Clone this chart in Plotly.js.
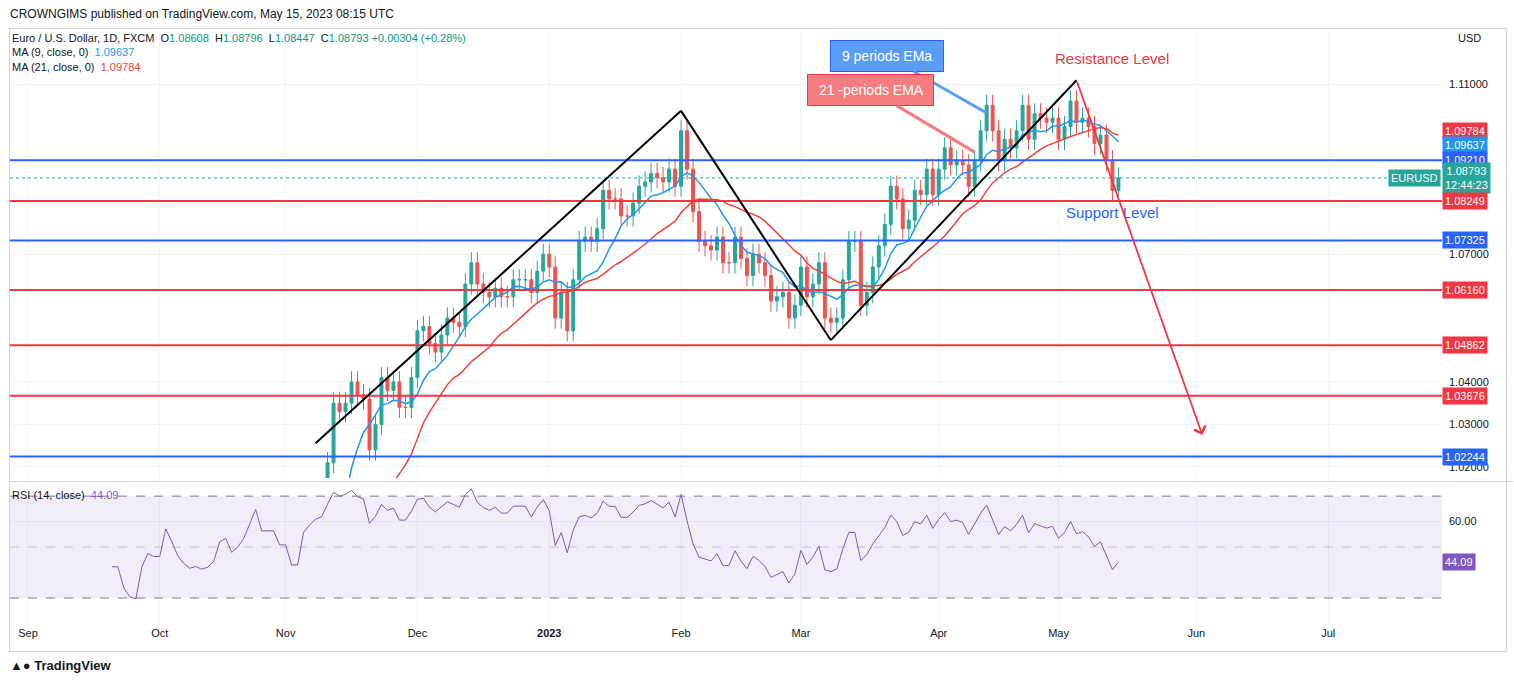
<!DOCTYPE html>
<html>
<head>
<meta charset="utf-8">
<script src="https://cdn.plot.ly/plotly-3.0.1.min.js"></script>
<style>
  html, body { margin: 0; padding: 0; background: #fff; font-family: 'Liberation Sans', Arial, sans-serif; }
  #graph { width: 1514px; height: 685px; }
  .hdr { position: absolute; left: 10px; top: 7px; font-size: 12px; color: #131722; }
  .foot { position: absolute; left: 10px; top: 658px; font-size: 13px; font-weight: bold; color: #131722; }
  .frame { position: absolute; left: 9px; top: 28px; width: 1496px; height: 622px; border: 1px solid #d1d4dc; pointer-events: none; }
</style>
</head>
<body>
<div class="hdr">CROWNGIMS published on TradingView.com, May 15, 2023 08:15 UTC</div>
<div id="graph"></div>
<div class="frame"></div>
<div class="foot">&#9650;&#9679; TradingView</div>
<script>
// --- Data: daily closes per month (EURUSD, Sep 2022 – May 15 2023) ---
const closeSep = [0.995,0.996,0.993,0.990,1.001,1.000,1.004,1.012,0.997,0.998,1.000,1.002,1.003,0.997,0.984,0.984,0.969,0.961,0.959,0.974,0.982,0.980];
const closeOct = [0.980,0.998,0.990,0.980,0.974,0.970,0.971,0.969,0.970,0.973,0.984,0.986,0.978,0.981,0.986,0.996,1.008,0.996,0.996,0.996,0.988];
const closeNov = [0.988,0.975,0.975,0.996,1.002,1.007,1.009,1.021,1.035,1.033,1.035,1.040,1.037,1.036,1.024,1.030,1.041,1.038,1.040,1.034,1.034,1.041];
const closeDec = [1.052,1.053,1.049,1.047,1.051,1.055,1.054,1.053,1.063,1.068,1.063,1.061,1.060,1.062,1.060,1.060,1.064,1.064,1.064,1.061,1.066,1.070];
const closeJan = [1.067,1.055,1.061,1.052,1.064,1.073,1.074,1.073,1.076,1.085,1.083,1.083,1.079,1.079,1.082,1.086,1.087,1.089,1.088,1.087,1.090,1.086];
const closeFeb = [1.099,1.090,1.080,1.073,1.072,1.071,1.074,1.068,1.068,1.074,1.069,1.065,1.070,1.068,1.065,1.059,1.060,1.061,1.055,1.058];
const closeMar = [1.067,1.060,1.063,1.068,1.055,1.054,1.055,1.064,1.073,1.073,1.058,1.061,1.067,1.072,1.077,1.086,1.083,1.076,1.078,1.085,1.084,1.090,1.084];
const closeApr = [1.090,1.095,1.091,1.092,1.091,1.086,1.092,1.099,1.105,1.099,1.092,1.097,1.095,1.099,1.105,1.097,1.103,1.102,1.101,1.102];
const closeMay = [1.097,1.100,1.106,1.101,1.102,1.100,1.096,1.098,1.092,1.085,1.08793];
const firstOpen = 1.005;

const levelsBlue = [1.09210, 1.07325, 1.02244];
const levelsRed = [1.08249, 1.06160, 1.04862, 1.03676];
const priceTicks = [1.02, 1.03, 1.04, 1.07, 1.11];
const monthTickDates = ['2022-09-01','2022-10-03','2022-11-01','2022-12-01','2023-01-02','2023-02-01','2023-03-01','2023-04-03','2023-05-01','2023-06-01','2023-07-03'];
const monthTickText = ['Sep','Oct','Nov','Dec','<b>2023</b>','Feb','Mar','Apr','May','Jun','Jul'];

const closes = [].concat(closeSep, closeOct, closeNov, closeDec, closeJan, closeFeb, closeMar, closeApr, closeMay);

// weekday dates from Sep 1 2022
const dates = [];
let d = new Date(Date.UTC(2022, 8, 1));
while (dates.length < closes.length) {
  const wd = d.getUTCDay();
  if (wd !== 0 && wd !== 6) dates.push(d.toISOString().slice(0, 10));
  d = new Date(d.getTime() + 86400000);
}

const opens = closes.map((c, i) => i === 0 ? firstOpen : closes[i - 1]);
const highs = closes.map((c, i) => Math.max(c, opens[i]) + 0.0025);
const lows = closes.map((c, i) => Math.min(c, opens[i]) - 0.0025);

function sma(n) {
  return closes.map((c, i) => {
    if (i < n - 1) return null;
    let s = 0;
    for (let k = i - n + 1; k <= i; k++) s += closes[k];
    return s / n;
  });
}

function rsi(n) {
  const out = closes.map(() => null);
  let g = 0, l = 0;
  for (let i = 1; i <= n; i++) {
    const ch = closes[i] - closes[i - 1];
    if (ch > 0) g += ch; else l -= ch;
  }
  g /= n; l /= n;
  out[n] = 100 - 100 / (1 + g / l);
  for (let i = n + 1; i < closes.length; i++) {
    const ch = closes[i] - closes[i - 1];
    g = (g * (n - 1) + Math.max(ch, 0)) / n;
    l = (l * (n - 1) + Math.max(-ch, 0)) / n;
    out[i] = 100 - 100 / (1 + g / l);
  }
  return out;
}

const BLUE = '#2962ff', RED = '#f23645', UP = '#26a69a', DOWN = '#ef5350';

const traces = [
  {
    type: 'candlestick', x: dates, open: opens, high: highs, low: lows, close: closes,
    increasing: { line: { color: UP, width: 1 }, fillcolor: UP },
    decreasing: { line: { color: DOWN, width: 1 }, fillcolor: DOWN },
    whiskerwidth: 0, hoverinfo: 'skip', xaxis: 'x', yaxis: 'y'
  },
  { type: 'scatter', mode: 'lines', x: dates, y: sma(9), line: { color: '#2196f3', width: 1.5 }, xaxis: 'x', yaxis: 'y' },
  { type: 'scatter', mode: 'lines', x: dates, y: sma(21), line: { color: '#f44336', width: 1.5 }, xaxis: 'x', yaxis: 'y' },
  { type: 'scatter', mode: 'lines', x: dates, y: rsi(14), line: { color: '#7e57c2', width: 1 }, xaxis: 'x', yaxis: 'y2' }
];

const shapes = [];
levelsBlue.forEach(v => shapes.push({ type: 'line', xref: 'paper', x0: 0, x1: 1, yref: 'y', y0: v, y1: v, line: { color: BLUE, width: 2 } }));
levelsRed.forEach(v => shapes.push({ type: 'line', xref: 'paper', x0: 0, x1: 1, yref: 'y', y0: v, y1: v, line: { color: RED, width: 2 } }));
shapes.push({ type: 'line', xref: 'paper', x0: 0, x1: 1, yref: 'y', y0: 1.08793, y1: 1.08793, line: { color: UP, width: 1, dash: 'dot' } });
// pattern lines
[['2022-11-08', 1.0256, '2023-02-01', 1.1037], ['2023-02-01', 1.1037, '2023-03-08', 1.0498], ['2023-03-08', 1.0498, '2023-05-04', 1.1109]]
  .forEach(s => shapes.push({ type: 'line', xref: 'x', yref: 'y', x0: s[0], y0: s[1], x1: s[2], y1: s[3], line: { color: '#000', width: 2 } }));
// RSI band
shapes.push({ type: 'rect', xref: 'paper', x0: 0, x1: 1, yref: 'y2', y0: 30, y1: 70, fillcolor: 'rgba(126,87,194,0.1)', line: { width: 0 } });
[30, 50, 70].forEach(v => shapes.push({ type: 'line', xref: 'paper', x0: 0, x1: 1, yref: 'y2', y0: v, y1: v, line: { color: v === 50 ? 'rgba(120,123,134,0.4)' : '#787b86', width: 1, dash: 'dash' } }));
// pane separator
shapes.push({ type: 'line', xref: 'paper', x0: 0, x1: 1.05, yref: 'paper', y0: 0.241, y1: 0.241, line: { color: '#d1d4dc', width: 1 } });

function priceBox(v, color, text, shift) {
  return { xref: 'paper', x: 1, xanchor: 'left', yref: 'y', y: v, text: text || v.toFixed(5), showarrow: false, yshift: shift || 0,
    bgcolor: color, font: { color: '#fff', size: 11, family: 'Liberation Sans' }, borderpad: 2 };
}

const annotations = [
  { xref: 'paper', yref: 'paper', x: 0, y: 1.0, xanchor: 'left', yanchor: 'top', showarrow: false, align: 'left',
    font: { size: 11, color: '#131722', family: 'Liberation Sans' },
    text: 'Euro / U.S. Dollar, 1D, FXCM  O<span style="color:#089981">1.08608</span>  H<span style="color:#089981">1.08796</span>  L<span style="color:#089981">1.08447</span>  C<span style="color:#089981">1.08793 +0.00304 (+0.28%)</span>' +
      '<br>MA (9, close, 0)  <span style="color:#2196f3">1.09637</span><br>MA (21, close, 0)  <span style="color:#f44336">1.09784</span>' },
  { xref: 'paper', yref: 'paper', x: 0, y: 0.232, xanchor: 'left', yanchor: 'top', showarrow: false,
    font: { size: 11, color: '#131722', family: 'Liberation Sans' }, text: 'RSI (14, close)  <span style="color:#7e57c2">44.09</span>' },
  { xref: 'paper', yref: 'paper', x: 1.01, y: 1.0, xanchor: 'left', yanchor: 'top', showarrow: false, font: { size: 11, color: '#131722' }, text: 'USD' },
  priceBox(1.09784, '#f23645', null, 5),
  priceBox(1.09637, '#2196f3', null, -3),
  priceBox(1.09210, BLUE),
  priceBox(1.08793, UP, '1.08793<br>12:44:23'),
  priceBox(1.08249, RED),
  priceBox(1.07325, BLUE),
  priceBox(1.06160, RED),
  priceBox(1.04862, RED),
  priceBox(1.03676, RED),
  priceBox(1.02244, BLUE),
  { xref: 'paper', x: 0.999, xanchor: 'right', yref: 'y', y: 1.08793, text: 'EURUSD', showarrow: false, bgcolor: UP, font: { color: '#fff', size: 11 }, borderpad: 2 },
  { xref: 'paper', x: 1, xanchor: 'left', yref: 'y2', y: 44.09, text: '44.09', showarrow: false, bgcolor: '#7e57c2', font: { color: '#fff', size: 11 }, borderpad: 2 },
  { xref: 'x', yref: 'y', x: '2023-05-12', y: 1.1159, text: 'Resistance Level', showarrow: false, font: { color: RED, size: 15, family: 'Liberation Sans' } },
  { xref: 'x', yref: 'y', x: '2023-05-12', y: 1.0797, text: 'Support Level', showarrow: false, font: { color: '#2962ff', size: 15, family: 'Liberation Sans' } },
  { xref: 'x', yref: 'y', x: '2023-04-13', y: 1.1032, ax: -100, ay: -57, text: ' 9 periods EMa ', showarrow: true, arrowhead: 0, arrowwidth: 3,
    arrowcolor: '#5b9cf6', bgcolor: '#5b9cf6', bordercolor: '#2962ff', borderpad: 7, font: { color: '#fff', size: 14 } },
  { xref: 'x', yref: 'y', x: '2023-04-11', y: 1.094, ax: -104, ay: -62, text: ' 21 -periods EMA ', showarrow: true, arrowhead: 0, arrowwidth: 3,
    arrowcolor: '#f77c80', bgcolor: '#f77c80', bordercolor: '#f23645', borderpad: 7, font: { color: '#fff', size: 14 } },
  { xref: 'x', yref: 'y', x: '2023-06-02', y: 1.0275, axref: 'x', ayref: 'y', ax: '2023-05-04', ay: 1.1109, text: '', showarrow: true,
    arrowhead: 4, arrowsize: 1.3, arrowwidth: 1.8, arrowcolor: '#f23645' }
];

const layout = {
  width: 1514, height: 685,
  margin: { l: 10, r: 72, t: 30, b: 60 },
  paper_bgcolor: 'rgba(0,0,0,0)', plot_bgcolor: '#fff',
  showlegend: false, dragmode: false,
  font: { family: 'Liberation Sans', size: 11, color: '#131722' },
  xaxis: {
    type: 'date', anchor: 'y2', range: ['2022-08-29', '2023-07-28'],
    rangebreaks: [{ bounds: ['sat', 'mon'] }],
    rangeslider: { visible: false },
    tickvals: monthTickDates, ticktext: monthTickText, ticks: '',
    showgrid: true, gridcolor: '#f0f3fa', zeroline: false, showline: false
  },
  yaxis: {
    domain: [0.247, 1], side: 'right', range: [1.0174, 1.1227],
    tickvals: priceTicks, tickformat: '.5f', showgrid: true, gridcolor: '#f0f3fa',
    zeroline: false, ticks: '', ticklabelstandoff: 6
  },
  yaxis2: {
    domain: [0, 0.235], side: 'right', range: [19.4, 74.3], anchor: 'x',
    tickvals: [60], tickformat: '.2f', showgrid: true, gridcolor: '#f0f3fa',
    zeroline: false, ticks: '', ticklabelstandoff: 6
  },
  shapes: shapes,
  annotations: annotations
};

Plotly.newPlot('graph', traces, layout, { displayModeBar: false, staticPlot: true });
</script>
</body>
</html>
